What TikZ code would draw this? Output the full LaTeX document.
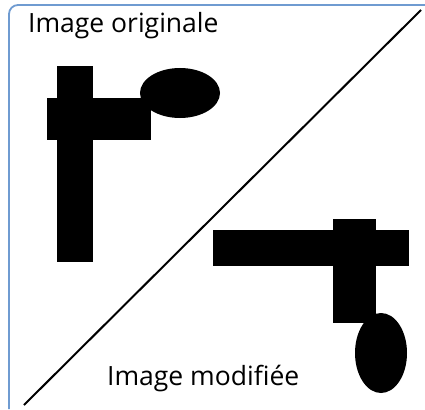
\documentclass[tikz,border=0pt]{standalone}
\usepackage{fontspec}
\setmainfont{Open Sans}
\usepackage{tikz}
\definecolor{framblue}{HTML}{6F9BD1}

\begin{document}
\begin{tikzpicture}[
    x=1pt, y=-1pt,
    frame/.style={draw=framblue, line width=1.8pt},
    split/.style={draw=black, line width=2pt},
    blob/.style={fill=black, draw=none},
    caption/.style={font=\fontsize{26.5}{30}\selectfont, inner sep=0pt, anchor=base west},
]
\useasboundingbox (0,0) rectangle (425,409);

% Frame (cut at right and bottom)
\draw[frame] (9,409) -- (9,14) arc[start angle=180, end angle=270, radius=9] -- (425,5);

% Diagonal split
\coordinate (dlow) at (24,405);
\coordinate (dhigh) at (421,10);
\draw[split] (dlow) -- (dhigh);

% Original shapes
\fill[blob] (57,66) rectangle (93,262);
\fill[blob] (47,98) rectangle (151,140);
\fill[blob] (180,93) ellipse[x radius=40, y radius=25];

% Modified shapes
\fill[blob] (213,230) rectangle (409,266);
\fill[blob] (333,219) rectangle (376,323);
\fill[blob] (381,353) ellipse[x radius=26, y radius=40];

% Labels
\node[caption] (orig) at (28,33) {Image originale};
\node[caption] (modif) at (107,385) {Image modifiée};

\end{tikzpicture}
\end{document}
